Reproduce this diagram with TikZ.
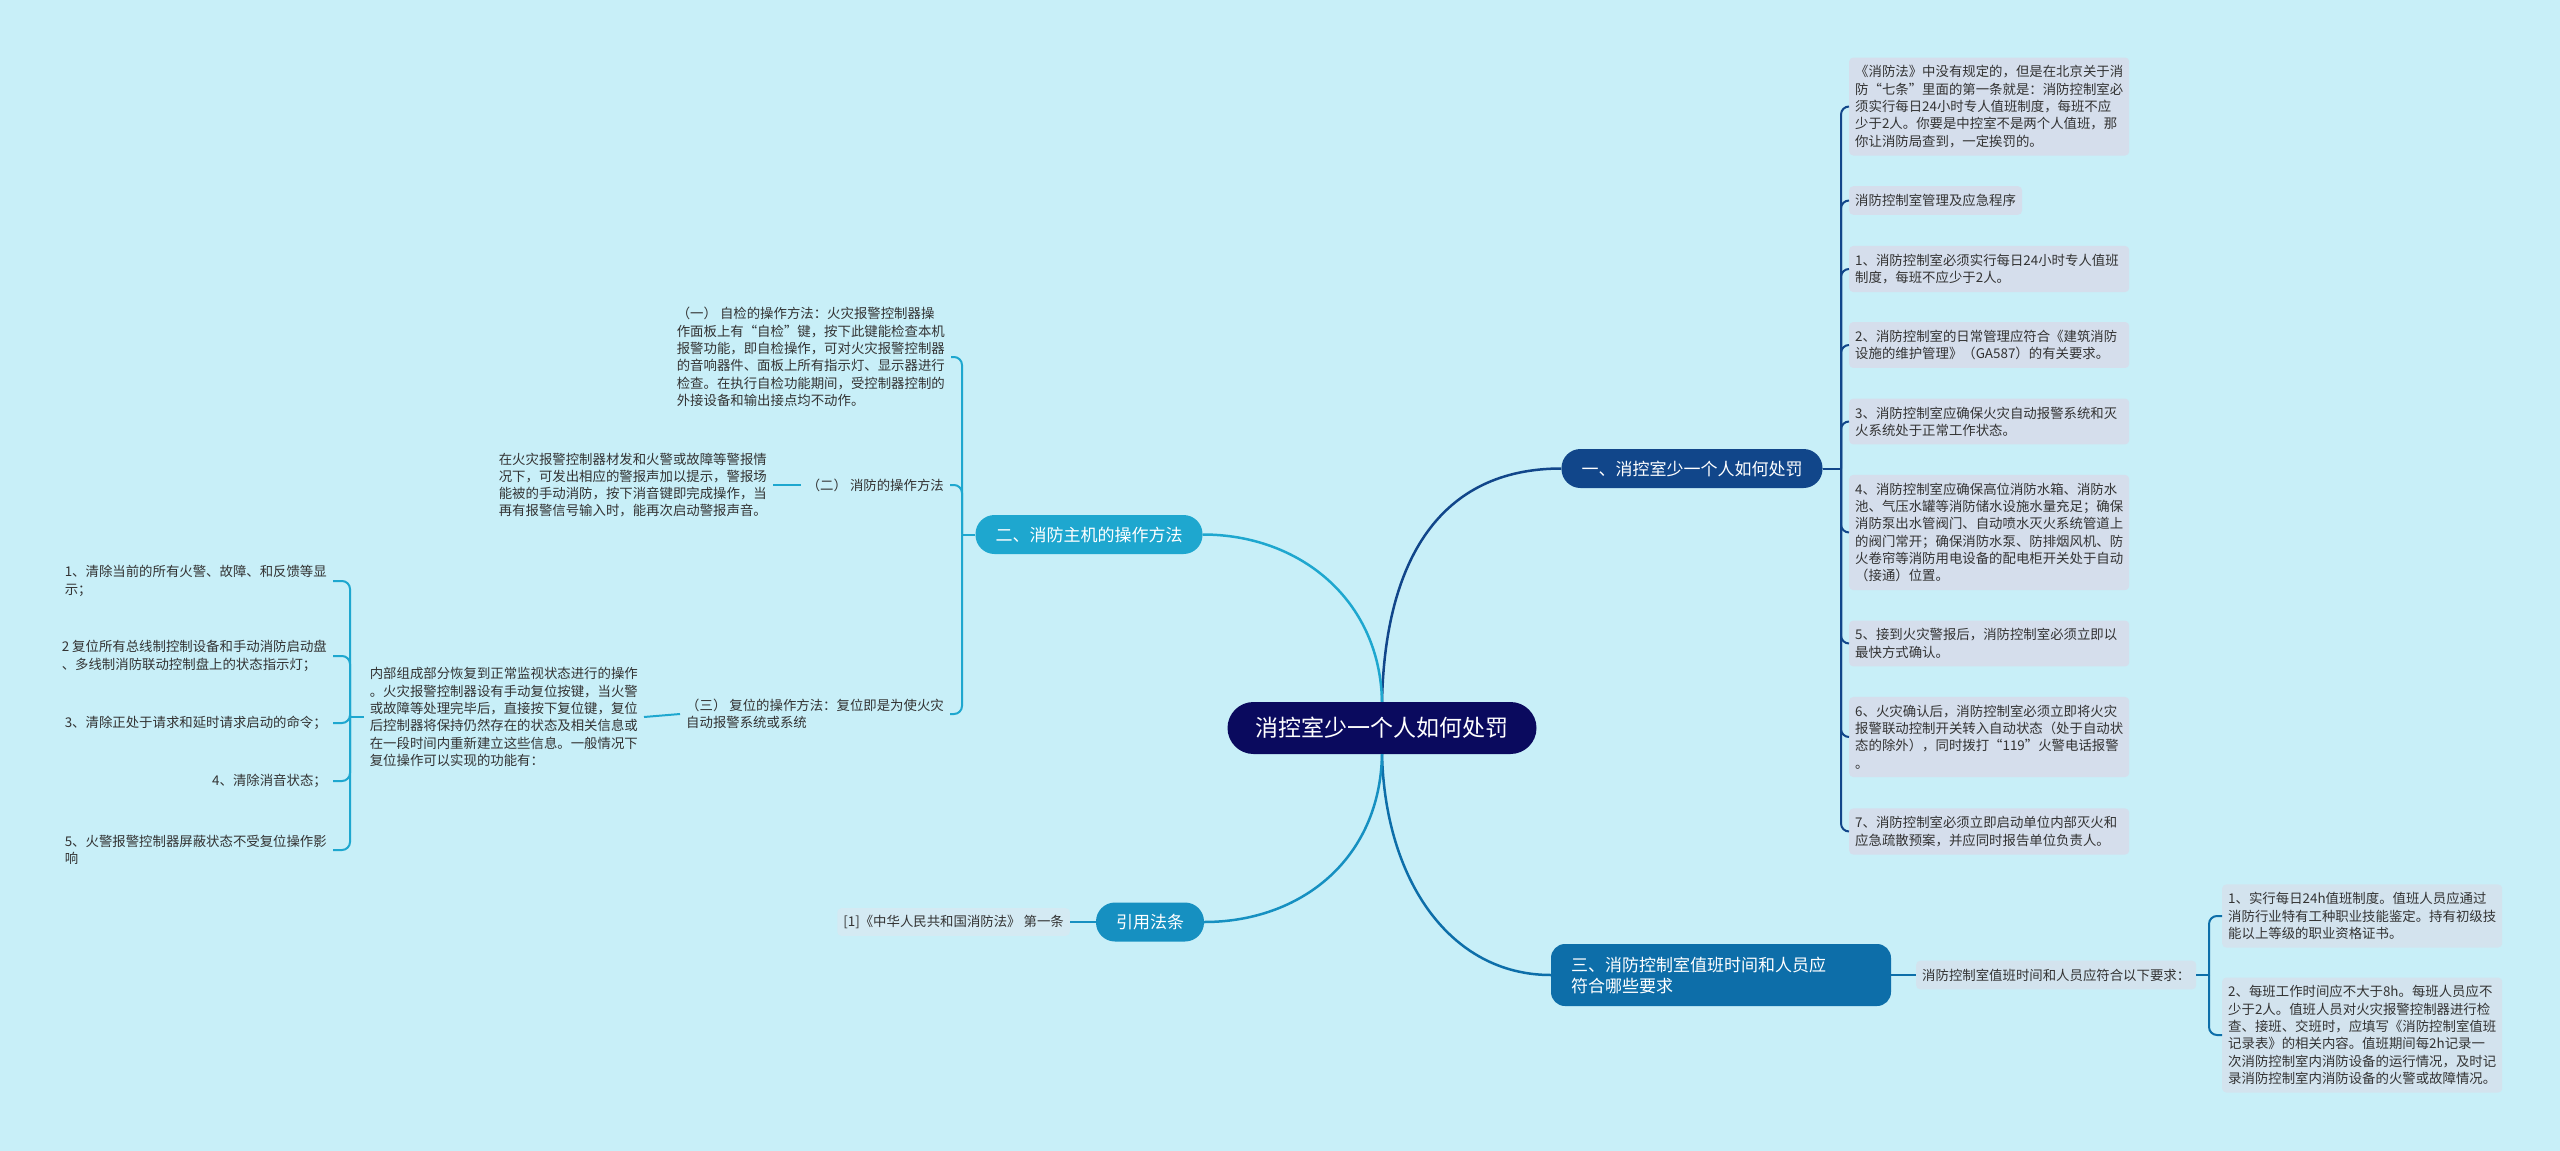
\documentclass[tikz,border=0pt]{standalone}
\usepackage{fontspec}
\setmainfont{Noto Sans CJK SC}
\definecolor{bgcol}{HTML}{C8EFF8}
\definecolor{rootcol}{HTML}{0A0A5E}
\definecolor{punishcol}{HTML}{11468A}
\definecolor{panelcol}{HTML}{1EA7CF}
\definecolor{dutycol}{HTML}{0D6EA9}
\definecolor{lawcol}{HTML}{1690C1}
\definecolor{leafcol}{HTML}{D5DEEC}
\definecolor{dutyleafcol}{HTML}{D3E3EE}
\definecolor{lawleafcol}{HTML}{D4EAF3}
\definecolor{leaftext}{HTML}{333333}
\begin{document}
\begin{tikzpicture}[x=1pt,y=-1pt,
  branch/.style={rounded corners=19pt, text=white, font=\fontsize{17}{21}\selectfont, minimum height=39pt, inner xsep=20pt, inner ysep=0pt},
  leaf/.style={fill=leafcol, rounded corners=4pt, text=leaftext, font=\fontsize{13.4}{17.3}\selectfont, align=left, inner xsep=6pt, inner ysep=8pt},
  plain/.style={text=leaftext, font=\fontsize{13.4}{17.3}\selectfont, align=left, inner xsep=6pt, inner ysep=4pt},
  mainlink/.style={line width=2.5pt},
  leaflink/.style={line width=2pt, rounded corners=8pt}]
\fill[bgcol] (0,0) rectangle (2560,1151);
\useasboundingbox (0,0) rectangle (2560,1151);

\node[fill=rootcol, text=white, rounded corners=26pt, minimum height=52pt, inner xsep=28pt, font=\fontsize{23}{27}\selectfont] (root) at (1382,728) {消控室少一个人如何处罚};

\node[branch, fill=punishcol] (punish) at (1692,468.5) {一、消控室少一个人如何处罚};
\node[branch, fill=panelcol] (panel) at (1089,534.5) {二、消防主机的操作方法};
\node[branch, fill=dutycol, rounded corners=14pt, align=left, text width=300pt, minimum height=62pt] (duty) at (1721,975) {三、消防控制室值班时间和人员应\\符合哪些要求};
\node[branch, fill=lawcol] (law) at (1150,922) {引用法条};

\node[leaf, anchor=west, text width=268pt] (nolaw) at (1849,106.5) {《消防法》中没有规定的，但是在北京关于消\\防“七条”里面的第一条就是：消防控制室必\\须实行每日24小时专人值班制度，每班不应\\少于2人。你要是中控室不是两个人值班，那\\你让消防局查到，一定挨罚的。};
\node[leaf, anchor=west] (mgmt) at (1849,200.5) {消防控制室管理及应急程序};
\node[leaf, anchor=west, text width=268pt] (rule1) at (1849,269) {1、消防控制室必须实行每日24小时专人值班\\制度，每班不应少于2人。};
\node[leaf, anchor=west, text width=268pt] (rule2) at (1849,345) {2、消防控制室的日常管理应符合《建筑消防\\设施的维护管理》（GA587）的有关要求。};
\node[leaf, anchor=west, text width=268pt] (rule3) at (1849,421.5) {3、消防控制室应确保火灾自动报警系统和灭\\火系统处于正常工作状态。};
\node[leaf, anchor=west, text width=268pt] (rule4) at (1849,532.5) {4、消防控制室应确保高位消防水箱、消防水\\池、气压水罐等消防储水设施水量充足；确保\\消防泵出水管阀门、自动喷水灭火系统管道上\\的阀门常开；确保消防水泵、防排烟风机、防\\火卷帘等消防用电设备的配电柜开关处于自动\\（接通）位置。};
\node[leaf, anchor=west, text width=268pt] (rule5) at (1849,643.5) {5、接到火灾警报后，消防控制室必须立即以\\最快方式确认。};
\node[leaf, anchor=west, text width=268pt] (rule6) at (1849,737) {6、火灾确认后，消防控制室必须立即将火灾\\报警联动控制开关转入自动状态（处于自动状\\态的除外），同时拨打“119”火警电话报警\\。};
\node[leaf, anchor=west, text width=268pt] (rule7) at (1849,831.5) {7、消防控制室必须立即启动单位内部灭火和\\应急疏散预案，并应同时报告单位负责人。};

\node[leaf, fill=dutyleafcol, anchor=west] (dutyreq) at (1916,975) {消防控制室值班时间和人员应符合以下要求：};
\node[leaf, fill=dutyleafcol, anchor=west, text width=268pt] (req1) at (2222,916) {1、实行每日24h值班制度。值班人员应通过\\消防行业特有工种职业技能鉴定。持有初级技\\能以上等级的职业资格证书。};
\node[leaf, fill=dutyleafcol, anchor=west, text width=268pt] (req2) at (2222,1035) {2、每班工作时间应不大于8h。每班人员应不\\少于2人。值班人员对火灾报警控制器进行检\\查、接班、交班时，应填写《消防控制室值班\\记录表》的相关内容。值班期间每2h记录一\\次消防控制室内消防设备的运行情况，及时记\\录消防控制室内消防设备的火警或故障情况。};

\node[leaf, fill=lawleafcol, anchor=east, inner ysep=7pt] (lawref) at (1070,922) {[1]《中华人民共和国消防法》 第一条};

\node[plain, anchor=east] (selftest) at (951,357) {（一） 自检的操作方法：火灾报警控制器操\\作面板上有“自检”键，按下此键能检查本机\\报警功能，即自检操作，可对火灾报警控制器\\的音响器件、面板上所有指示灯、显示器进行\\检查。在执行自检功能期间，受控制器控制的\\外接设备和输出接点均不动作。};
\node[plain, anchor=east] (silence) at (950,485) {（二） 消防的操作方法};
\node[plain, anchor=east] (silencedesc) at (773,485) {在火灾报警控制器材发和火警或故障等警报情\\况下，可发出相应的警报声加以提示，警报场\\能被的手动消防，按下消音键即完成操作，当\\再有报警信号输入时，能再次启动警报声音。};
\node[plain, anchor=east] (reset) at (950,714) {（三） 复位的操作方法：复位即是为使火灾\\自动报警系统或系统};
\node[plain, anchor=east] (resetdesc) at (644,717) {内部组成部分恢复到正常监视状态进行的操作\\。火灾报警控制器设有手动复位按键，当火警\\或故障等处理完毕后，直接按下复位键，复位\\后控制器将保持仍然存在的状态及相关信息或\\在一段时间内重新建立这些信息。一般情况下\\复位操作可以实现的功能有：};
\node[plain, anchor=east] (clear1) at (333,581) {1、清除当前的所有火警、故障、和反馈等显\\示；};
\node[plain, anchor=east] (clear2) at (333,656) {2 复位所有总线制控制设备和手动消防启动盘\\、多线制消防联动控制盘上的状态指示灯；};
\node[plain, anchor=east] (clear3) at (333,723) {3、清除正处于请求和延时请求启动的命令；};
\node[plain, anchor=east] (clear4) at (333,781) {4、清除消音状态；};
\node[plain, anchor=east] (clear5) at (333,850) {5、火警报警控制器屏蔽状态不受复位操作影\\响};

\coordinate (punishfork) at (1841,468.5);
\coordinate (dutyfork) at (2209,975);
\coordinate (panelfork) at (962,534.5);
\coordinate (resetfork) at (350,717);

\draw[mainlink, punishcol] (root.north) .. controls (1385,560) and (1440,468.5) .. (punish.west);
\draw[mainlink, panelcol] (root.north) .. controls (1380,600) and (1300,534.5) .. (panel.east);
\draw[mainlink, dutycol] (root.south) .. controls (1385,880) and (1450,975) .. (duty.west);
\draw[mainlink, lawcol] (root.south) .. controls (1380,860) and (1300,922) .. (law.east);

\draw[leaflink, punishcol] (punish.east) -- (punishfork);
\draw[leaflink, punishcol] (punishfork) |- (nolaw.west);
\draw[leaflink, punishcol] (punishfork) |- (mgmt.west);
\draw[leaflink, punishcol] (punishfork) |- (rule1.west);
\draw[leaflink, punishcol] (punishfork) |- (rule2.west);
\draw[leaflink, punishcol] (punishfork) |- (rule3.west);
\draw[leaflink, punishcol] (punishfork) |- (rule4.west);
\draw[leaflink, punishcol] (punishfork) |- (rule5.west);
\draw[leaflink, punishcol] (punishfork) |- (rule6.west);
\draw[leaflink, punishcol] (punishfork) |- (rule7.west);

\draw[leaflink, dutycol] (duty.east) -- (dutyreq.west);
\draw[leaflink, dutycol] (dutyreq.east) -- (dutyfork);
\draw[leaflink, dutycol] (dutyfork) |- (req1.west);
\draw[leaflink, dutycol] (dutyfork) |- (req2.west);

\draw[leaflink, lawcol] (law.west) -- (lawref.east);

\draw[leaflink, panelcol] (panel.west) -- (panelfork);
\draw[leaflink, panelcol] (panelfork) |- (selftest.east);
\draw[leaflink, panelcol] (panelfork) |- (silence.east);
\draw[leaflink, panelcol] (panelfork) |- (reset.east);
\draw[leaflink, panelcol] (silence.west) -- (silencedesc.east);
\draw[leaflink, panelcol] (reset.west) -- (resetdesc.east);
\draw[leaflink, panelcol] (resetdesc.west) -- (resetfork);
\draw[leaflink, panelcol] (resetfork) |- (clear1.east);
\draw[leaflink, panelcol] (resetfork) |- (clear2.east);
\draw[leaflink, panelcol] (resetfork) |- (clear3.east);
\draw[leaflink, panelcol] (resetfork) |- (clear4.east);
\draw[leaflink, panelcol] (resetfork) |- (clear5.east);
\end{tikzpicture}
\end{document}
